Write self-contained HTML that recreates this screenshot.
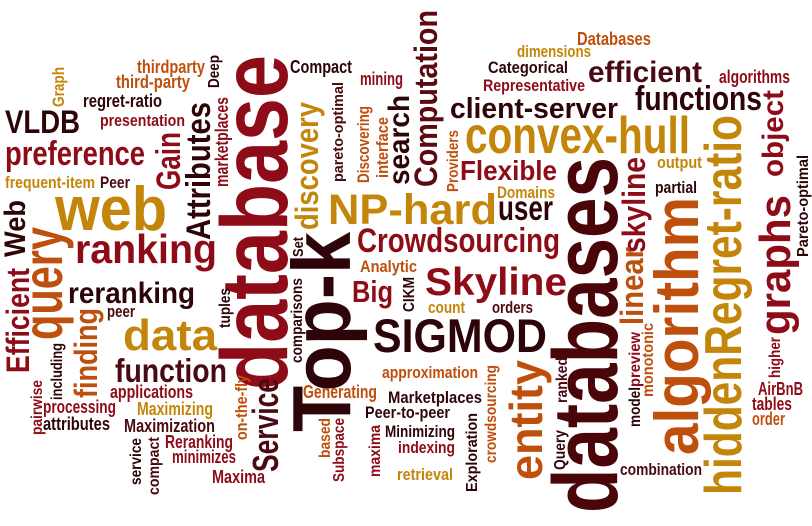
<!DOCTYPE html>
<html><head><meta charset="utf-8">
<style>
html,body{margin:0;padding:0;background:#fff;}
#cloud{position:absolute;left:0;top:0;width:812px;height:526px;}
#cloud text{font-family:"Liberation Sans",sans-serif;font-weight:bold;}
</style></head>
<body>
<svg id="cloud" width="812" height="526" viewBox="0 0 812 526" xmlns="http://www.w3.org/2000/svg"></svg>
<script>
// colors
const M='#8e0c18', D='#2d0509', K='#4a0a12', G='#c4860a', O='#bf4f0c';
// [text, x, y, fontSize, length, color, vertical]
// horizontal: x=start, y=baseline ; vertical: x=baseline, y=bottom(start)
const words = [
 ['database',287,390,95,335,M,1],
 ['Top-k',350,432,83,200,D,1],
 ['databases',617,513,92,356,'#4a0508',1],
 ['algorithm',698,455,62,258,O,1],
 ['hiddenRegret-ratio',741,495,52,380,G,1],
 ['graphs',790,335,44,140,M,1],
 ['object',783,177,30,87,M,1],
 ['Pareto-optimal',808,257,16,102,D,1],
 ['entity',542,480,46,120,O,1],
 ['web',55,230,62,112,G,0],
 ['preference',5,165,34,140,M,0],
 ['VLDB',5,133,32,75,D,0],
 ['thirdparty',137,73,18,68,O,0],
 ['third-party',116,88,18,74,O,0],
 ['regret-ratio',83,107,18,79,D,0],
 ['presentation',100,126,17,85,M,0],
 ['frequent-item',5,188,17,90,G,0],
 ['Peer',100,188,17,30,K,0],
 ['Graph',64,107,17,40,G,1],
 ['Deep',219,88,16,33,D,1],
 ['Gain',180,190,34,58,M,1],
 ['Attributes',210,240,34,138,D,1],
 ['marketplaces',228,187,18,90,M,1],
 ['Compact',290,73,18,62,D,0],
 ['mining',360,85,18,43,M,0],
 ['pareto-optimal',343,182,15,100,K,1],
 ['Discovering',369,183,17,77,O,1],
 ['interface',388,178,17,61,O,1],
 ['search',409,185,30,90,D,1],
 ['discovery',318,230,32,128,G,1],
 ['NP-hard',328,224,43,169,G,0],
 ['Set',303,257,15,20,D,1],
 ['Crowdsourcing',357,252,34,203,M,0],
 ['Databases',577,45,18,74,O,0],
 ['dimensions',517,57,17,74,G,0],
 ['Categorical',488,73,17,80,D,0],
 ['Representative',483,91,17,102,M,0],
 ['efficient',588,82,30,114,K,0],
 ['algorithms',719,83,18,71,M,0],
 ['functions',635,110,34,127,D,0],
 ['client-server',450,118,29,168,D,0],
 ['Computation',437,187,32,177,'#5a0a10',1],
 ['Providers',458,192,16,62,O,1],
 ['convex-hull',465,153,52,225,G,0],
 ['Flexible',460,180,28,97,M,0],
 ['Domains',497,198,17,58,G,0],
 ['user',498,220,35,55,D,0],
 ['skyline',645,253,32,96,M,1],
 ['output',657,168,17,45,G,0],
 ['partial',655,193,17,42,D,0],
 ['Analytic',360,272,17,57,O,0],
 ['Skyline',425,295,39,142,M,0],
 ['CIKM',414,312,16,35,D,1],
 ['count',428,313,17,37,G,0],
 ['orders',492,313,17,41,K,0],
 ['SIGMOD',373,352,47,174,D,0],
 ['approximation',382,378,17,96,O,0],
 ['Marketplaces',388,403,17,94,D,0],
 ['Peer-to-peer',365,418,17,85,D,0],
 ['Minimizing',385,437,17,70,D,0],
 ['indexing',398,453,17,57,M,0],
 ['retrieval',397,480,17,56,G,0],
 ['Exploration',477,492,16,79,D,1],
 ['crowdsourcing',496,463,16,98,O,1],
 ['ranked',567,403,16,46,K,1],
 ['Query',565,470,16,40,D,1],
 ['model',640,427,16,40,D,1],
 ['preview',640,387,16,55,M,1],
 ['monotonic',653,397,16,74,O,1],
 ['linear',643,325,32,78,O,1],
 ['combination',620,475,17,82,K,0],
 ['higher',780,378,16,41,M,1],
 ['AirBnB',758,395,18,45,M,0],
 ['tables',752,410,18,40,M,0],
 ['order',752,425,18,33,O,0],
 ['ranking',75,263,41,142,M,0],
 ['query',62,340,56,113,O,1],
 ['Efficient',29,373,32,105,M,1],
 ['Web',25,257,30,57,D,1],
 ['reranking',68,303,30,127,D,0],
 ['peer',107,317,17,28,K,0],
 ['finding',97,398,32,90,O,1],
 ['data',123,350,44,94,G,0],
 ['tuples',230,328,16,40,D,1],
 ['including',62,400,16,57,D,1],
 ['function',115,382,33,112,K,0],
 ['pairwise',42,435,16,55,M,1],
 ['applications',110,398,18,83,M,0],
 ['processing',43,413,18,73,M,0],
 ['Maximizing',137,415,18,76,G,0],
 ['attributes',43,430,18,67,D,0],
 ['Maximization',124,432,18,91,K,0],
 ['on-the-fly',247,440,17,65,O,1],
 ['Service',278,472,36,94,K,1],
 ['Reranking',165,448,18,68,M,0],
 ['minimizes',172,463,18,64,M,0],
 ['Maxima',212,483,18,53,M,0],
 ['service',141,485,16,47,D,1],
 ['compact',159,495,16,58,K,1],
 ['comparisons',302,363,16,85,D,1],
 ['Big',352,302,31,41,M,0],
 ['Generating',303,398,18,74,O,0],
 ['based',330,458,16,40,O,1],
 ['Subspace',344,482,16,64,M,1],
 ['maxima',380,477,16,52,M,1]
];
const svg = document.getElementById('cloud');
const NS = 'http://www.w3.org/2000/svg';
for (const w of words) {
  const t = document.createElementNS(NS, 'text');
  t.textContent = w[0];
  t.setAttribute('font-size', w[3]);
  t.setAttribute('fill', w[5]);
  t.setAttribute('textLength', w[4]);
  t.setAttribute('lengthAdjust', 'spacingAndGlyphs');
  if (w[6]) {
    t.setAttribute('x', 0);
    t.setAttribute('y', 0);
    t.setAttribute('transform', 'translate(' + w[1] + ',' + w[2] + ') rotate(-90)');
  } else {
    t.setAttribute('x', w[1]);
    t.setAttribute('y', w[2]);
  }
  
  
  svg.appendChild(t);
}
</script>
</body></html>
